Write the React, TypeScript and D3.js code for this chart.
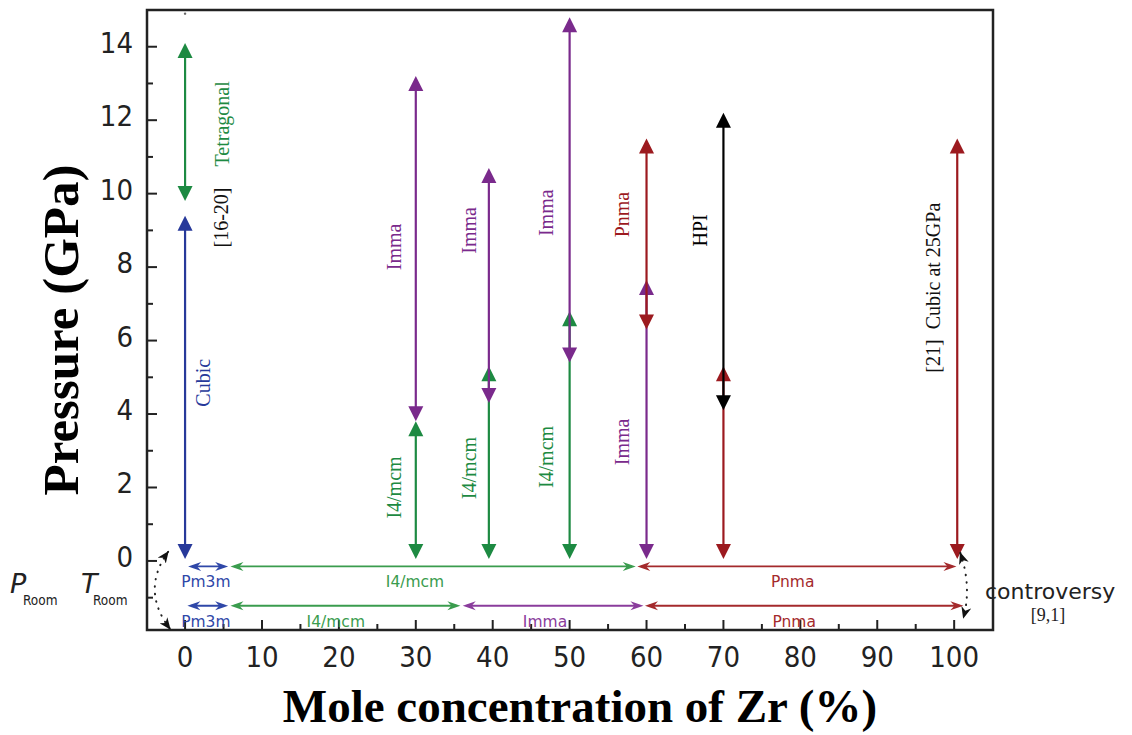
import React from "react";
import * as d3 from "d3";

const W = 1132;
const H = 735;

// ---------- axis ticks ----------
const yMajorTicks = [0, 2, 4, 6, 8, 10, 12, 14];
const yMinorTicks = [-1, 1, 3, 5, 7, 9, 11, 13];
const xMajorTicks = [0, 10, 20, 30, 40, 50, 60, 70, 80, 90, 100];
const xMinorTicks = [5, 15, 25, 35, 45, 55, 65, 75, 85, 95];

// ---------- vertical (pressure-driven) phase arrows ----------
const vX = [0, 0, 30, 30, 39.5, 39.5, 50, 50, 60, 60, 70, 70, 100.4];
const vLow = [0.05, 9.8, 0.05, 3.8, 0.05, 4.3, 0.05, 5.4, 0.05, 6.3, 0.05, 4.1, 0.05];
const vHigh = [9.4, 14.1, 3.8, 13.2, 5.3, 10.7, 6.8, 14.8, 7.65, 11.5, 5.3, 12.2, 11.5];
const vPhase = ["cubic", "tetra", "i4mcm", "imma", "i4mcm", "imma", "i4mcm", "imma", "imma", "pnma", "pnma", "hpi", "pnma"];

// ---------- labels beside vertical arrows ----------
const vtText = ["Tetragonal", "[16-20]", "Cubic", "Imma", "I4/mcm", "Imma", "I4/mcm", "Imma", "I4/mcm", "Pnma", "Imma", "HPI", "[21]\u00a0\u00a0Cubic at 25GPa"];
const vtX = [0, 0, 0, 30, 30, 39.5, 39.5, 50, 50, 60, 60, 70, 100.4];
const vtP = [11.9, 9.35, 4.85, 8.55, 2.0, 9.0, 2.53, 9.48, 2.83, 9.43, 3.24, 9.0, 7.44];
const vtPhase = ["tetra", "ref", "cubic", "imma", "i4mcm", "imma", "i4mcm", "imma", "i4mcm", "pnma", "imma", "hpi", "ref"];

// ---------- horizontal (room P & T) phase arrows ----------
const hRowP = [-0.15, -0.15, -0.15, -1.22, -1.22, -1.22, -1.22];
const hFrom = [0.4, 5.9, 58.8, 0.3, 5.9, 36.1, 59.8];
const hTo = [5.6, 58.6, 100.3, 5.6, 35.8, 59.6, 101.2];
const hPhase = ["cubic", "i4mcm", "pnma", "cubic", "i4mcm", "imma", "pnma"];
const hText = ["Pm3m", "I4/mcm", "Pnma", "Pm3m", "I4/mcm", "Imma", "Pnma"];
const hTextX = [2.7, 29.9, 79.0, 2.7, 19.6, 46.8, 79.2];

// ---------- styles ----------
const colors: Record<string, string> = {
  cubic: "#27399a",
  tetra: "#1d8a42",
  i4mcm: "#1d8a42",
  imma: "#7a2a8c",
  pnma: "#9c1a1f",
  hpi: "#000000",
  ref: "#111111",
};
const hColors: Record<string, string> = {
  cubic: "#2f47a8",
  i4mcm: "#3a9c4e",
  imma: "#8a3c9c",
  pnma: "#a42a2c",
};
const vtOffset = [37, 36, 18, -22, -22, -20, -20, -24, -24, -25, -25, -23, -24];

const plot = { left: 147, right: 993, top: 10, bottom: 630 };

export default function App() {
  const x = d3.scaleLinear().domain([-4.95, 105.05]).range([plot.left, plot.right]);
  const y = d3.scaleLinear().domain([-1.88, 15.0]).range([plot.bottom, plot.top]);

  const serif = "'Liberation Serif', 'Times New Roman', serif";
  const sans = "'DejaVu Sans', sans-serif";
  const cond = "'DejaVu Sans Condensed', 'DejaVu Sans', sans-serif";

  const HW = 7.5; // half width of vertical arrowheads
  const HL = 15; // length of vertical arrowheads

  const vArrows = vX.map((xv, i) => {
    const px = x(xv);
    const y1 = y(vLow[i]);
    const y2 = y(vHigh[i]);
    const c = colors[vPhase[i]];
    return (
      <g key={"v" + i}>
        <line x1={px} x2={px} y1={y1 - HL + 1} y2={y2 + HL - 1} stroke={c} strokeWidth={2.2} />
        <path d={`M${px},${y2} L${px - HW},${y2 + HL} L${px + HW},${y2 + HL} Z`} fill={c} />
        <path d={`M${px},${y1} L${px - HW},${y1 - HL} L${px + HW},${y1 - HL} Z`} fill={c} />
      </g>
    );
  });

  const hArrows = hFrom.map((f, i) => {
    const x1 = x(f);
    const x2 = x(hTo[i]);
    const py = y(hRowP[i]);
    const c = hColors[hPhase[i]];
    const L = 13, hw = 4.5, n = 9;
    return (
      <g key={"h" + i}>
        <line x1={x1 + 4} x2={x2 - 4} y1={py} y2={py} stroke={c} strokeWidth={1.8} />
        <path d={`M${x1},${py} L${x1 + L},${py - hw} L${x1 + n},${py} L${x1 + L},${py + hw} Z`} fill={c} />
        <path d={`M${x2},${py} L${x2 - L},${py - hw} L${x2 - n},${py} L${x2 - L},${py + hw} Z`} fill={c} />
      </g>
    );
  });

  const hLabels = hText.map((t, i) => (
    <text
      key={"hl" + i}
      x={x(hTextX[i])}
      y={y(hRowP[i]) + 21}
      textAnchor="middle"
      fontFamily={sans}
      fontSize={15.5}
      fill={hColors[hPhase[i]]}
    >
      {t}
    </text>
  ));

  const vLabels = vtText.map((t, i) => {
    const px = x(vtX[i]) + vtOffset[i];
    const py = y(vtP[i]);
    return (
      <text
        key={"vl" + i}
        transform={`translate(${px},${py}) rotate(-90)`}
        textAnchor="middle"
        dominantBaseline="central"
        fontFamily={serif}
        fontSize={20}
        fill={colors[vtPhase[i]]}
        style={{ whiteSpace: "pre" }}
      >
        {t}
      </text>
    );
  });

  // dotted curved arrows (room conditions / controversy)
  const leftArc = `M${x(-2.2)},${y(0.25)} Q${x(-5.8)},${y(-0.8)} ${x(-1.95)},${y(-1.85)}`;
  const rightArc = `M${x(100.8)},${y(0.22)} Q${x(102.3)},${y(-0.7)} ${x(101.2)},${y(-1.55)}`;

  return (
    <svg
      width={W}
      height={H}
      style={{ position: "absolute", left: 0, top: 0, background: "#fff" }}
      xmlns="http://www.w3.org/2000/svg"
    >
      <defs>
        <marker
          id="arcHead"
          viewBox="0 0 12 10"
          refX={11}
          refY={5}
          markerWidth={12}
          markerHeight={10}
          markerUnits="userSpaceOnUse"
          orient="auto-start-reverse"
        >
          <path d="M0,0 L12,5 L0,10 L3.5,5 Z" fill="#111" />
        </marker>
      </defs>
      <rect x={0} y={0} width={W} height={H} fill="#fff" />

      {/* frame */}
      <rect
        x={plot.left}
        y={plot.top}
        width={plot.right - plot.left}
        height={plot.bottom - plot.top}
        fill="none"
        stroke="#222"
        strokeWidth={2.5}
      />

      {/* y ticks */}
      {yMajorTicks.map((t) => (
        <g key={"ym" + t}>
          <line x1={plot.left} x2={plot.left + 10} y1={y(t)} y2={y(t)} stroke="#222" strokeWidth={2} />
          <text
            x={plot.left - 14}
            y={y(t) + 6}
            textAnchor="end"
            fontFamily={cond}
            fontSize={29}
            fill="#222"
          >
            {t}
          </text>
        </g>
      ))}
      {yMinorTicks.map((t) => (
        <line key={"yn" + t} x1={plot.left} x2={plot.left + 6} y1={y(t)} y2={y(t)} stroke="#222" strokeWidth={2} />
      ))}

      {/* x ticks */}
      {xMajorTicks.map((t) => (
        <g key={"xm" + t}>
          <line x1={x(t)} x2={x(t)} y1={plot.bottom} y2={plot.bottom - 10} stroke="#222" strokeWidth={2} />
          <text x={x(t)} y={667} textAnchor="middle" fontFamily={cond} fontSize={29} fill="#222">
            {t}
          </text>
        </g>
      ))}
      {xMinorTicks.map((t) => (
        <line key={"xn" + t} x1={x(t)} x2={x(t)} y1={plot.bottom} y2={plot.bottom - 6} stroke="#222" strokeWidth={2} />
      ))}

      {/* tiny speck at top */}
      <circle cx={x(0)} cy={y(14.9)} r={1.2} fill="#666" />

      {/* arrows */}
      {vArrows}
      {hArrows}
      {vLabels}
      {hLabels}

      {/* dotted curved arrows */}
      <path
        d={leftArc}
        fill="none"
        stroke="#222"
        strokeWidth={2}
        strokeDasharray="0.5 7"
        strokeLinecap="round"
        markerStart="url(#arcHead)"
        markerEnd="url(#arcHead)"
      />
      <path
        d={rightArc}
        fill="none"
        stroke="#222"
        strokeWidth={2}
        strokeDasharray="0.5 7"
        strokeLinecap="round"
        markerStart="url(#arcHead)"
        markerEnd="url(#arcHead)"
      />

      {/* room condition labels */}
      <text x={10} y={593} fontFamily={sans} fontStyle="italic" fontSize={27} fill="#222">P</text>
      <text x={23} y={605} fontFamily={cond} fontSize={13.5} fill="#222">Room</text>
      <text x={81} y={593} fontFamily={sans} fontStyle="italic" fontSize={27} fill="#222">T</text>
      <text x={93} y={605} fontFamily={cond} fontSize={13.5} fill="#222">Room</text>

      {/* controversy */}
      <text x={985} y={599} fontFamily={sans} fontSize={22} fill="#222">controversy</text>
      <text x={1048} y={621} textAnchor="middle" fontFamily={serif} fontSize={18} fill="#222">[9,1]</text>

      {/* axis titles */}
      <text
        x={580}
        y={722}
        textAnchor="middle"
        fontFamily={serif}
        fontWeight="bold"
        fontSize={47}
        fill="#000"
      >
        Mole concentration of Zr (%)
      </text>
      <text
        transform={`translate(78,330) rotate(-90)`}
        textAnchor="middle"
        fontFamily={serif}
        fontWeight="bold"
        fontSize={51}
        fill="#000"
      >
        Pressure (GPa)
      </text>
    </svg>
  );
}
